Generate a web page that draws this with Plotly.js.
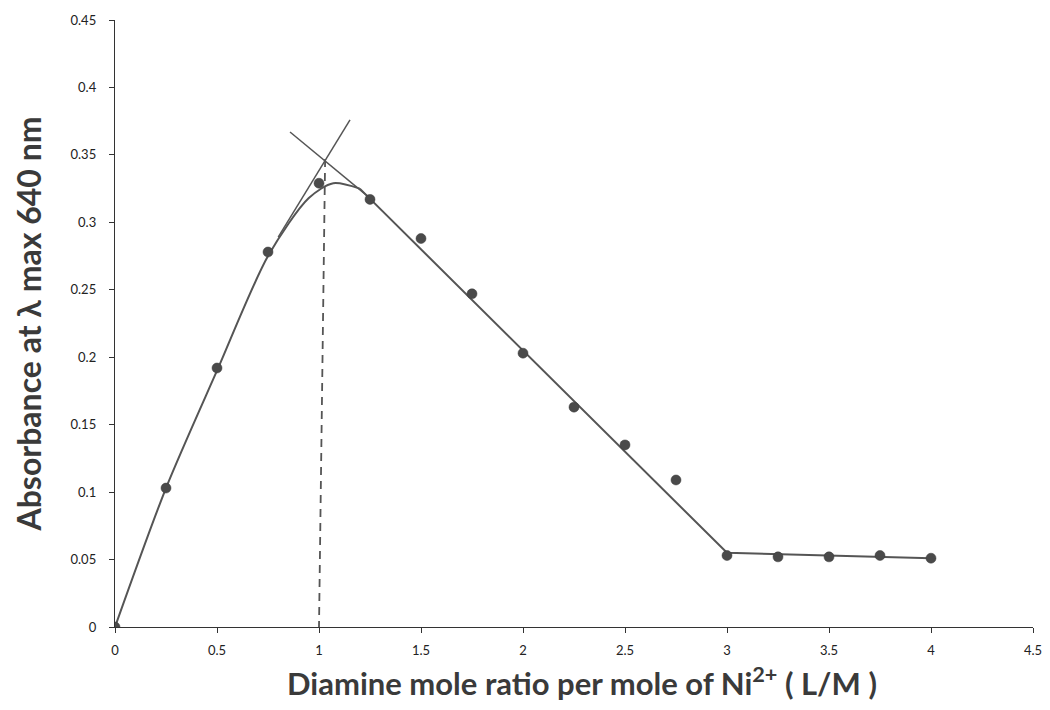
<!DOCTYPE html>
<html>
<head>
<meta charset="utf-8">
<script src="https://cdn.plot.ly/plotly-3.0.1.min.js"></script>
<style>html,body{margin:0;padding:0;background:#fff;}#chart{width:1050px;height:710px;}</style>
</head>
<body>
<div id="chart"></div>
<script>
// Measured points
const ratioX = [0, 0.25, 0.5, 0.75, 1.0, 1.25, 1.5, 1.75, 2.0, 2.25, 2.5, 2.75, 3.0, 3.25, 3.5, 3.75, 4.0];
const absorbance = [0, 0.103, 0.192, 0.278, 0.329, 0.317, 0.288, 0.247, 0.203, 0.163, 0.135, 0.109, 0.053, 0.052, 0.052, 0.053, 0.051];

// Hand-drawn fit curve
const curveX = [0, 0.25, 0.5, 0.75, 0.95, 1.07, 1.2];
const curveY = [0, 0.103, 0.19, 0.275, 0.318, 0.329, 0.325];
const fallX = [1.2, 3.0, 4.0];
const fallY = [0.325, 0.055, 0.051];

// Tangent construction lines
const riseTanX = [0.8, 1.152];
const riseTanY = [0.289, 0.376];
const fallTanX = [0.858, 1.25];
const fallTanY = [0.367, 0.318];
const dropX = [1.03, 1.0];
const dropY = [0.347, 0];

const xTicks = [0, 0.5, 1, 1.5, 2, 2.5, 3, 3.5, 4, 4.5];
const yTicks = [0, 0.05, 0.1, 0.15, 0.2, 0.25, 0.3, 0.35, 0.4, 0.45];

const xTitle = '<b>Diamine mole ratio per mole of Ni<sup>2+</sup> ( L/M )</b>';
const yTitle = '<b>Absorbance at λ max 640 nm</b>';

const lineCol = '#555555';
const traces = [
  {x: curveX, y: curveY, mode: 'lines', line: {color: lineCol, width: 2, shape: 'spline', smoothing: 0.8}, hoverinfo: 'skip'},
  {x: fallX, y: fallY, mode: 'lines', line: {color: lineCol, width: 2}, hoverinfo: 'skip'},
  {x: riseTanX, y: riseTanY, mode: 'lines', line: {color: lineCol, width: 1.5}, hoverinfo: 'skip'},
  {x: fallTanX, y: fallTanY, mode: 'lines', line: {color: lineCol, width: 1.5}, hoverinfo: 'skip'},
  {x: dropX, y: dropY, mode: 'lines', line: {color: lineCol, width: 1.8, dash: '8px,6px'}, hoverinfo: 'skip'},
  {x: ratioX, y: absorbance, mode: 'markers', marker: {color: '#4a4a4a', size: 10, line: {color: '#3a3a3a', width: 0.5}}}
];

const layout = {
  width: 1050, height: 710,
  margin: {l: 115, r: 17, t: 20, b: 83},
  paper_bgcolor: '#fff', plot_bgcolor: '#fff',
  showlegend: false,
  font: {family: 'Lato, "Open Sans", sans-serif', color: '#333'},
  xaxis: {
    range: [0, 4.5], tickvals: xTicks, ticktext: xTicks.map(String),
    showgrid: false, zeroline: false, showline: true, linecolor: '#333', linewidth: 1.2,
    ticks: 'outside', ticklen: 5, tickcolor: '#333', tickfont: {size: 13, color: '#222'},
    ticklabelstandoff: 6
  },
  yaxis: {
    range: [0, 0.45], tickvals: yTicks, ticktext: yTicks.map(String),
    showgrid: false, zeroline: false, showline: true, linecolor: '#333', linewidth: 1.2,
    ticks: 'outside', ticklen: 5, tickcolor: '#333', tickfont: {size: 13, color: '#222'},
    ticklabelstandoff: 10,
    title: {text: yTitle, font: {size: 32, color: '#3a3a3a'}, standoff: 19}
  },
  annotations: [{
    text: xTitle, xref: 'paper', yref: 'paper', x: 0.509, y: -0.053,
    xanchor: 'center', yanchor: 'top', showarrow: false,
    font: {size: 31, color: '#3a3a3a'}
  }]
};

Plotly.newPlot('chart', traces, layout, {displayModeBar: false, staticPlot: true});
</script>
</body>
</html>
